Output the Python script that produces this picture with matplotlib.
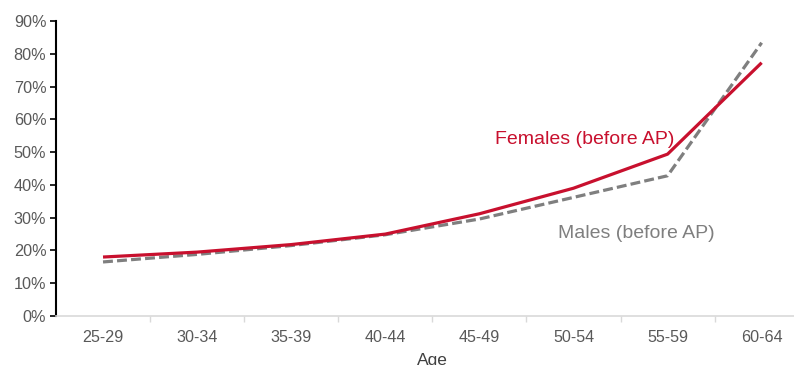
import matplotlib
matplotlib.use("Agg")
import matplotlib.pyplot as plt
from matplotlib.ticker import FuncFormatter, FixedLocator
import numpy as np

plt.rcParams['font.family'] = ['Liberation Sans', 'DejaVu Sans']

age_groups = ["25-29", "30-34", "35-39", "40-44", "45-49", "50-54", "55-59", "60-64"]
females = [0.180, 0.195, 0.218, 0.250, 0.312, 0.390, 0.494, 0.773]
males = [0.165, 0.188, 0.215, 0.248, 0.296, 0.362, 0.428, 0.834]
y_ticks = [0.0, 0.1, 0.2, 0.3, 0.4, 0.5, 0.6, 0.7, 0.8, 0.9]

red = "#C8102E"
grey = "#7F7F7F"
text_grey = "#595959"

fig = plt.figure(figsize=(7.94, 3.65), dpi=100)
ax = fig.add_axes([0.0705, 0.1342, 0.948, 0.808])

x = np.arange(len(age_groups))
ax.plot(x, males, color=grey, lw=2.3, dashes=(3.1, 1.3), dash_capstyle="butt")
ax.plot(x, females, color=red, lw=2.3, solid_capstyle="butt")

ax.set_xlim(-0.5, len(age_groups) - 0.5)
ax.set_ylim(0, 0.9)
ax.set_yticks(y_ticks)
ax.yaxis.set_major_formatter(FuncFormatter(lambda v, p: f"{v*100:.0f}%"))

ax.set_xticks(x)
ax.set_xticklabels(age_groups)
ax.xaxis.set_minor_locator(FixedLocator(np.arange(0.5, len(age_groups) - 0.5, 1.0)))
ax.tick_params(axis="x", which="major", length=0, pad=10, labelsize=11.6, labelcolor=text_grey)
ax.tick_params(axis="x", which="minor", length=4, width=1, color="#D9D9D9")
ax.tick_params(axis="y", length=4, width=1.2, color="black", labelsize=11.7, labelcolor=text_grey, pad=3)

for s in ["top", "right"]:
    ax.spines[s].set_visible(False)
ax.spines["left"].set_color("black")
ax.spines["left"].set_linewidth(1.5)
ax.spines["bottom"].set_color("#D9D9D9")
ax.spines["bottom"].set_linewidth(1.2)

ax.set_xlabel("Age", fontsize=12.5, color="#404040", labelpad=6)

ax.text(5.12, 0.538, "Females (before AP)", color=red, fontsize=14, ha="center", va="center")
ax.text(5.67, 0.252, "Males (before AP)", color=grey, fontsize=14, ha="center", va="center")

fig.savefig("out.png", dpi=100)
